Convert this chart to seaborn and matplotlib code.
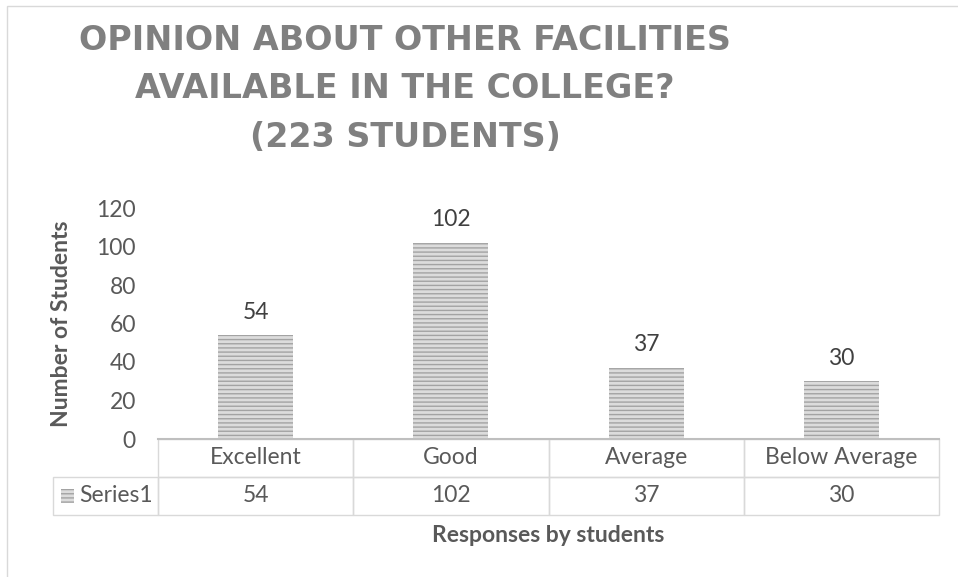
import matplotlib
matplotlib.use("Agg")
import matplotlib.pyplot as plt
import seaborn as sns
from matplotlib.patches import Rectangle
from matplotlib.table import Table

# data
categories = ["Excellent", "Good", "Average", "Below Average"]
counts = [54, 102, 37, 30]
series_name = "Series1"
y_ticks = [0, 20, 40, 60, 80, 100, 120]
title_lines = [
    "OPINION ABOUT OTHER FACILITIES",
    "AVAILABLE IN THE COLLEGE?",
    "(223 STUDENTS)",
]

sns.set_theme(style="white")
plt.rcParams["font.family"] = ["Lato", "DejaVu Sans"]
plt.rcParams["hatch.linewidth"] = 1.0

W, H = 958, 577
BAR_FACE = "#dcdcdc"
BAR_LINE = "#a3a3a3"
GRID = "#d9d9d9"
TXT = "#595959"
FS = 16.5

fig = plt.figure(figsize=(W / 100, H / 100), dpi=100)
ax = fig.add_axes([158 / W, 1 - 439 / H, 781 / W, 231 / H])

sns.barplot(x=categories, y=counts, order=categories, color=BAR_FACE,
            saturation=1, width=0.385, ax=ax)
for p in ax.patches:
    p.set_facecolor(BAR_FACE)
    p.set_edgecolor(BAR_LINE)
    p.set_hatch("----")
    p.set_linewidth(0)

ax.bar_label(ax.containers[0], labels=[str(v) for v in counts], padding=9,
             fontsize=FS, color="#404040")

ax.set_ylim(0, 120)
ax.set_yticks(y_ticks)
ax.tick_params(axis="y", length=0, pad=16, labelsize=FS, labelcolor=TXT)
ax.tick_params(axis="x", length=0, labelbottom=False)
sns.despine(ax=ax, left=True)
ax.spines["bottom"].set_color("#bfbfbf")
ax.spines["bottom"].set_linewidth(1.5)

ax.set_ylabel("Number of Students", fontsize=FS, fontweight="bold", color=TXT)
ax.yaxis.set_label_coords(-96 / 781, 0.5)
ax.yaxis.label.set_va("center")
ax.set_xlabel("Responses by students", fontsize=FS, fontweight="bold", color=TXT)
ax.xaxis.set_label_coords(0.5, -96 / 231)
ax.xaxis.label.set_va("center")

# excel-style data table under the bars
row_w = 105 / 781
tab = Table(ax, bbox=[-row_w, -76 / 231, 1 + row_w, 76 / 231])
for j, (cat, val) in enumerate(zip(categories, counts), start=1):
    tab.add_cell(0, j, width=0.25, height=0.5, text=cat, loc="center",
                 edgecolor=GRID, facecolor="none")
    tab.add_cell(1, j, width=0.25, height=0.5, text=str(val), loc="center",
                 edgecolor=GRID, facecolor="none")
head = tab.add_cell(1, 0, width=row_w, height=0.5, text=series_name,
                    loc="right", edgecolor=GRID, facecolor="none")
head.PAD = 0.05
tab.auto_set_font_size(False)
tab.set_fontsize(FS)
for cell in tab.get_celld().values():
    cell.get_text().set_color(TXT)
ax.add_table(tab)

# legend key in the table row header
fig.add_artist(Rectangle((61 / W, 1 - 503 / H), 13 / W, 14 / H,
                         transform=fig.transFigure, facecolor=BAR_FACE,
                         edgecolor=BAR_LINE, hatch="----", lw=0))

# chart area border
fig.add_artist(Rectangle((7 / W, -0.1), 1.2, 1.1 - 6 / H, fill=False,
                         edgecolor=GRID, lw=1, transform=fig.transFigure))

fig.text(405 / W, 1 - 89 / H, "\n".join(title_lines), ha="center", va="center",
         multialignment="center", linespacing=1.6, fontsize=24,
         fontweight="bold", color="#808080", family="DejaVu Sans")

fig.savefig("out.png", dpi=100)
